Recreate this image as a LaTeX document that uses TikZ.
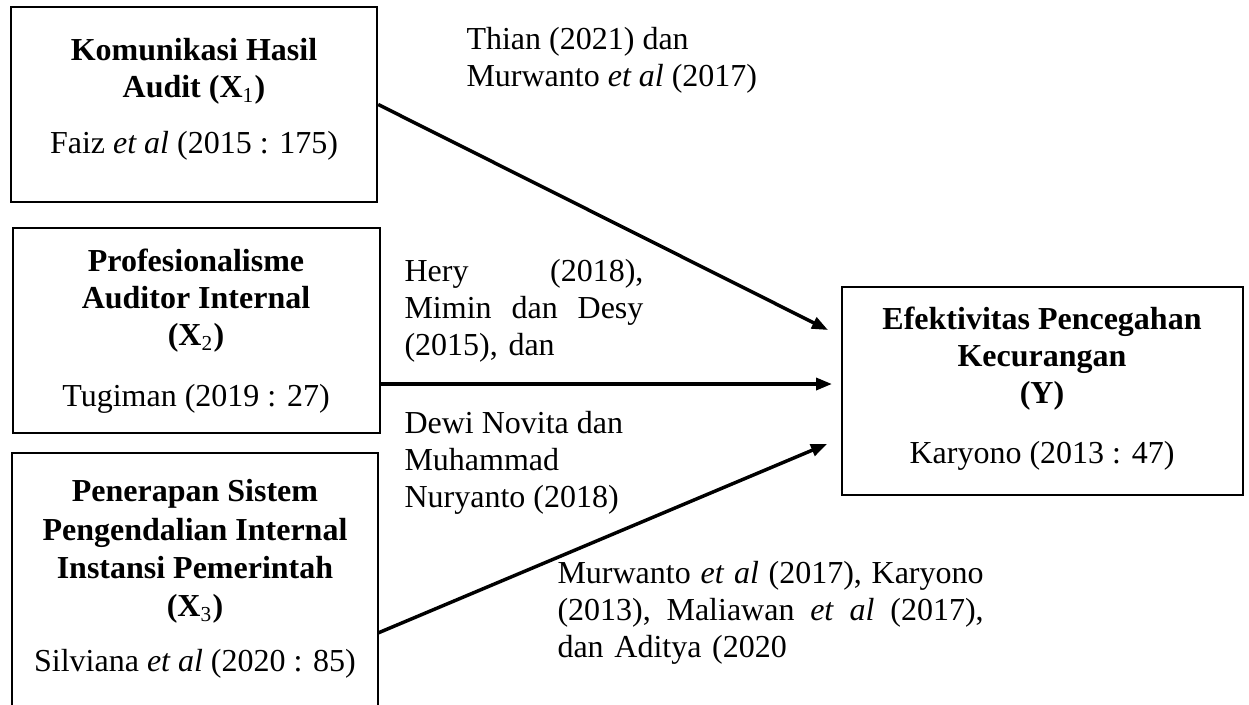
\documentclass[tikz,border=0pt]{standalone}
\usepackage{fontspec}
\setmainfont{Liberation Serif}
\usetikzlibrary{arrows.meta, positioning, fit}
\tikzset{
    %Define standard arrow tip
    >={Triangle[length=6pt,width=4.5pt]},
}

\begin{document}
\begin{tikzpicture}[
  x=0.375pt, y=-0.375pt,
  every node/.style = {inner sep=0pt, font=\fontsize{12}{14.4}\selectfont},
  box/.style = {draw, line width=0.9pt},
  boxtxt/.style = {align=center, anchor=north},
  cite/.style = {align=left, anchor=north west,
                 font=\fontsize{12}{13.9}\selectfont},
  link/.style = {->, line width=1.3pt} ]
  \useasboundingbox (0,0) rectangle (1249,705);
  \clip (0,0) rectangle (1249,705);

  % variables
  \node [box, fit={(11,7) (377,202)}] (x1) {};
  \node [box, fit={(13,228) (380,433)}] (x2) {};
  \node [box, fit={(12,453) (378,760)}] (x3) {};
  \node [box, fit={(842,287) (1243,495)}] (y) {};

  \node [boxtxt] (x1txt) at (194,38)
    {\textbf{Komunikasi Hasil}\\[-0.5pt]\textbf{Audit (X\textsubscript{\mdseries 1})}\\[6.6pt]
     Faiz \textit{et al} (2015 : 175)};
  \node [boxtxt] (x2txt) at (196,248)
    {\textbf{Profesionalisme}\\[-0.5pt]\textbf{Auditor Internal}\\[-0.5pt]
     \textbf{(X\textsubscript{\mdseries 2})}\\[8.5pt]
     Tugiman (2019 : 27)};
  \node [boxtxt] (x3txt) at (195,479)
    {\textbf{Penerapan Sistem}\\\textbf{Pengendalian Internal}\\
     \textbf{Instansi Pemerintah}\\\textbf{(X\textsubscript{\mdseries 3})}\\[6.2pt]
     Silviana \textit{et al} (2020 : 85)};
  \node [boxtxt] (ytxt) at (1042,306)
    {\textbf{Efektivitas Pencegahan}\\[-0.4pt]\textbf{Kecurangan}\\[-0.4pt]\textbf{(Y)}\\[8.1pt]
     Karyono (2013 : 47)};

  % references on the paths
  \node [cite] (c1) at (466,27)
    {Thian (2021) dan\\Murwanto \textit{et al} (2017)};
  \node [cite, text width=89.6pt] (c2) at (404,259)
    {Hery\hfill(2018),\\Mimin\hfill dan\hfill Desy\\(2015), dan};
  \node [cite] (c3) at (404,411)
    {Dewi Novita dan\\Muhammad\\Nuryanto (2018)};
  \node [cite, text width=159.8pt] (c4) at (557,561)
    {Murwanto\hfill\textit{et}\hfill\textit{al}\hfill(2017),\hfill Karyono\\
     (2013),\hfill Maliawan\hfill\textit{et}\hfill\textit{al}\hfill(2017),\\
     dan Aditya (2020};

  \coordinate (in1) at (828,330);
  \coordinate (in2) at (832,384);
  \coordinate (in3) at (827,444);
  \coordinate (out3) at (378,633);

  \draw [link] (x1.east) -- (in1);
  \draw [link] (x2.east |- in2) -- (in2);
  \draw [link] (out3) -- (in3);
\end{tikzpicture}
\end{document}
